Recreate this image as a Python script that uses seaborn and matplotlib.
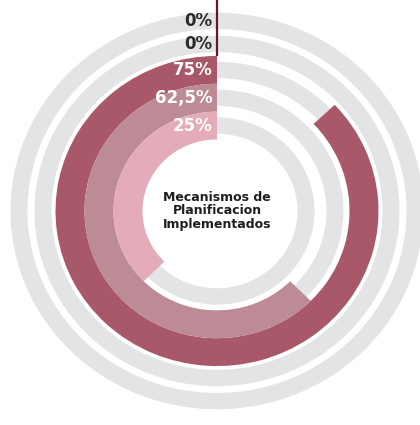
import numpy as np
import matplotlib
matplotlib.use("Agg")
import matplotlib.pyplot as plt
import seaborn as sns

# rings from outside to inside
ring_labels = ["0%", "0%", "75%", "62,5%", "25%"]
ring_values = [0, 0, 75, 62.5, 25]
# share of the circle that each arc covers in the graphic
arc_share = [0, 0, 0.87, 0.625, 0.375]
center_text = "Mecanismos de\nPlanificacion\nImplementados"

bar_colors = ["#A85868", "#A85868", "#A85868", "#BD8B95", "#E3ACB8"]
label_colors = ["#2A2A2A", "#2A2A2A", "white", "white", "white"]
track_color = "#E3E4E6"
line_color = "#5E1A2C"

sns.set_theme(style="white")
plt.rcParams["font.family"] = ["DejaVu Sans"]

W, H = 420, 425
cx, cy, R = 217, 211, 215
k = 0.96  # the graphic is slightly squashed vertically
Ry = R * k
fig = plt.figure(figsize=(W / 100, H / 100), dpi=100)
ax = fig.add_axes([(cx - R) / W, (H - cy - Ry) / H, 2 * R / W, 2 * Ry / H], projection="polar")
ax.set_aspect("auto")
ax.set_theta_zero_location("N")
ax.set_theta_direction(1)
ax.set_ylim(0, R)
ax.set_axis_off()

# radial layout in pixels
ring_mid = [198, 174, 147, 118, 89]
bar_w = 29
track_w = 17

# gray tracks behind every ring
for mid in ring_mid:
    ax.bar(0, track_w, width=2 * np.pi, bottom=mid - track_w / 2, align="edge",
           color=track_color, linewidth=0)

# colored arcs, counterclockwise from the top
for mid, share, col, val in zip(ring_mid, arc_share, bar_colors, ring_values):
    if val > 0:
        ax.bar(0, bar_w, width=share * 2 * np.pi, bottom=mid - bar_w / 2, align="edge",
               color=col, linewidth=0)

# thin marker line for the empty rings
top_bar = max(m + bar_w / 2 for m, v in zip(ring_mid, ring_values) if v > 0)
ax.plot([0, 0], [top_bar, R * 1.1], color=line_color, lw=1.6, clip_on=False, solid_capstyle="butt")

for mid, lab, tc in zip(ring_mid, ring_labels, label_colors):
    ax.annotate(lab, xy=(0, mid), xytext=(-3, 0), textcoords="offset points",
                ha="right", va="center", fontsize=12, fontweight="bold", color=tc)

ax.text(0, 0, center_text, ha="center", va="center", fontsize=9,
        fontweight="bold", color="#1E1E1E", linespacing=1.05)

fig.savefig("out.png", dpi=100)
